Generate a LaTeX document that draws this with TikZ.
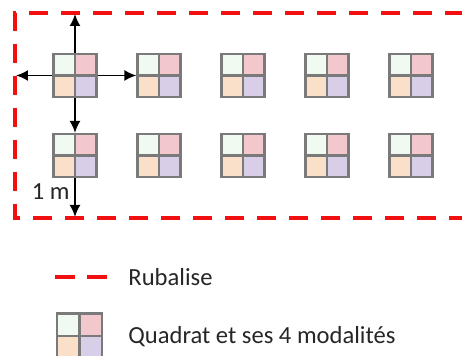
\documentclass[tikz,border=0pt]{standalone}
\usepackage{fontspec}
\setmainfont{Carlito}
\usetikzlibrary{arrows.meta}

\definecolor{rouge}{HTML}{F20F0F}
\definecolor{gris}{HTML}{7A7A7A}
\definecolor{vertpale}{HTML}{F0FAF0}
\definecolor{rose}{HTML}{F2C8CC}
\definecolor{peche}{HTML}{FAE0C8}
\definecolor{lavande}{HTML}{D8CEE8}
\definecolor{texte}{HTML}{262626}

\tikzset{
    quadrat/.style={minimum size=21.5pt, inner sep=0pt, draw=gris, line width=1.1pt,
        path picture={
            \fill[vertpale] (path picture bounding box.north west) rectangle (path picture bounding box.center);
            \fill[rose] (path picture bounding box.north east) rectangle (path picture bounding box.center);
            \fill[peche] (path picture bounding box.south west) rectangle (path picture bounding box.center);
            \fill[lavande] (path picture bounding box.south east) rectangle (path picture bounding box.center);
            \draw[gris, line width=1.1pt] (path picture bounding box.north) -- (path picture bounding box.south);
            \draw[gris, line width=1.1pt] (path picture bounding box.west) -- (path picture bounding box.east);
        }},
    rubalise/.style={rouge, line width=2pt, dash pattern=on 9.5pt off 6.5pt},
    fleche/.style={black, line width=0.9pt, -{Latex[length=6pt, width=5.5pt]}},
    legende/.style={anchor=west, inner sep=0pt, text=texte, font=\fontsize{12.3pt}{14pt}\selectfont}
}

\begin{document}
\begin{tikzpicture}[x=0.5pt, y=-0.5pt]
    \useasboundingbox (0,0) rectangle (462,356);
    % Define the dashed enclosure
    \begin{scope}
        \clip (0,0) rectangle (462,356);
        \draw[rubalise, dash phase=3pt] (490,13) -- (15,13) -- (15,218) -- (490,218);
    \end{scope}
    % Define quadrats
    \foreach \i in {1,...,5} {
        \node[quadrat] (qa\i) at ({75+84*(\i-1)}, 75.5) {};
        \node[quadrat] (qb\i) at ({75+84*(\i-1)}, 155.5) {};
    }
    % Define free ends of the arrows
    \coordinate (haut) at (77,14);
    \coordinate (gauche) at (16,77);
    \coordinate (bas) at (77,217);
    % Draw distances
    \draw[fleche] (qa1.north) -- (qa1.north |- haut);
    \draw[fleche] (qa1.west) -- (qa1.west -| gauche);
    \draw[fleche] (qa1.east) -- (qa2.west);
    \draw[fleche] (qa1.south) -- (qb1.north);
    \draw[fleche] (qb1.south) -- (qb1.south |- bas);
    \node[legende, anchor=east] (metre) at (70,192) {1 m};
    % Legend
    \coordinate (rubA) at (55,277);
    \coordinate (rubB) at (107,277);
    \draw[rubalise, dash pattern=on 10pt off 6pt] (rubA) -- (rubB);
    \node[legende] (rubtexte) at (128,277) {Rubalise};
    \node[quadrat, minimum size=22.5pt] (qleg) at (79.5,336) {};
    \node[legende] (qtexte) at (128,337) {Quadrat et ses 4 modalités};
\end{tikzpicture}
\end{document}
